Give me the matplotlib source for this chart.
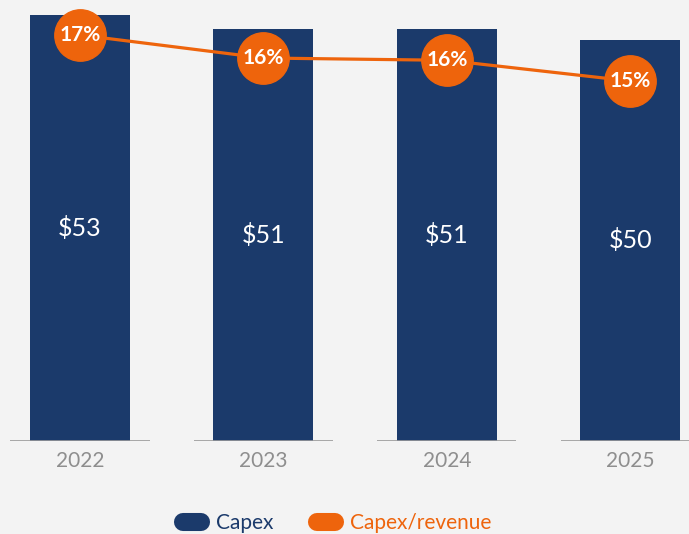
import matplotlib.pyplot as plt
from matplotlib.lines import Line2D

years = ["2022", "2023", "2024", "2025"]
capex = [52.9, 51.2, 51.2, 49.8]
capex_ratio = [17.0, 16.0, 15.9, 15.0]

navy = "#1b3a6b"
orange = "#ee640c"
bg = "#f3f3f3"
grey = "#8e8e8e"

plt.rcParams["font.family"] = ["Lato", "DejaVu Sans"]

fig = plt.figure(figsize=(6.89, 5.34), dpi=100, facecolor=bg)
ax = fig.add_axes([0, 93 / 534, 1, 441 / 534])
ax.set_facecolor(bg)

x = list(range(len(years)))
ax.bar(x, capex, width=0.545, color=navy, zorder=2)
ax.hlines([0] * len(x), [i - 0.38 for i in x], [i + 0.38 for i in x],
          color="#9a9a9a", lw=1.2, zorder=3)
for i, v in zip(x, capex):
    ax.text(i, v / 2, f"${round(v)}", ha="center", va="center",
            color="white", fontsize=18, fontweight="normal", zorder=4)

ax.set_xlim(-80 / 183.4, (689 - 80) / 183.4)
ax.set_ylim(0, 441 / (426 / 52.9))
ax.set_xticks(x)
ax.set_xticklabels(years, fontsize=15, color=grey)
ax.tick_params(axis="x", length=0, pad=7)
ax.set_yticks([])
for s in ax.spines.values():
    s.set_visible(False)

# capex/revenue on its own scale
ax2 = ax.twinx()
ax2.set_position(ax.get_position())
ax2.plot(x, capex_ratio, color=orange, lw=2.3, zorder=5)
ax2.plot(x, capex_ratio, "o", color=orange, ms=37, zorder=6)
for i, p in zip(x, capex_ratio):
    ax2.text(i, p, f"{round(p)}%", ha="center", va="center",
             color="white", fontsize=15, fontweight="bold", zorder=7)
ax2.set_ylim(17 - 406 / 23, 17 + 35 / 23)
ax2.set_yticks([])
for s in ax2.spines.values():
    s.set_visible(False)

handles = [
    Line2D([0], [0], color=navy, lw=13, solid_capstyle="round"),
    Line2D([0], [0], color=orange, lw=13, solid_capstyle="round"),
]
fig.legend(handles, ["Capex", "Capex/revenue"], loc="center",
           bbox_to_anchor=(337 / 689, 1 - 523 / 534), ncol=2,
           frameon=False, fontsize=15, labelcolor=[navy, orange],
           handlelength=0.87, handletextpad=0.72, columnspacing=2.1,
           borderpad=0)

fig.savefig("out.png", dpi=100, facecolor=bg)
